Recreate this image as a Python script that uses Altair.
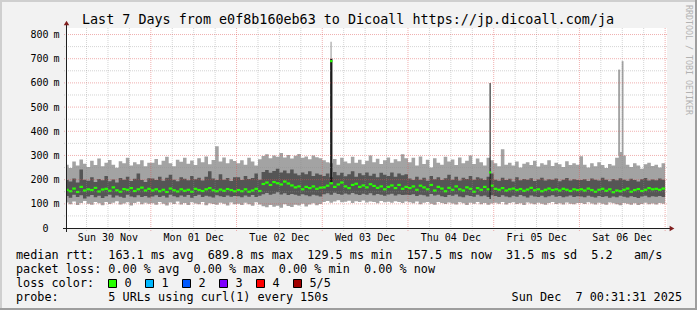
import altair as alt
import pandas as pd

# ---------------- data ----------------
# hourly bins, hour 0 = Sun 30 Nov 00:00; graph covers 0.525 .. 168.525 h
p5 = [262, 248, 275, 258, 283, 266, 252, 278, 260, 287, 255, 270, 281, 262, 249, 276, 268, 290, 258, 272, 264, 280, 255, 270,
      270, 285, 262, 278, 295, 268, 255, 282, 274, 290, 266, 279, 260, 288, 272, 296, 264, 281, 338, 275, 292, 268, 284, 277,
      268, 280, 262, 290, 275, 258, 284, 298, 305, 288, 300, 295, 310, 292, 302, 287, 299, 306, 290, 296, 284, 300, 293, 288,
      280, 272, 268, 285, 262, 290, 275, 268, 295, 270, 282, 264, 278, 300, 272, 286, 265, 280, 292, 270, 284, 276, 305, 288,
      272, 290, 258, 296, 265, 282, 250, 288, 270, 262, 295, 275, 283, 260, 292, 268, 278, 300, 265, 287, 272, 258, 290, 280,
      268, 255, 326, 262, 270, 258, 275, 250, 266, 272, 260, 278, 254, 268, 262, 280, 256, 270, 264, 252, 276, 260, 268, 262,
      297, 262, 250, 268, 255, 272, 260, 248, 265, 258, 290, 314, 300, 262, 252, 268, 258, 245, 264, 270, 256, 262, 250, 268]
p4 = [198, 192, 205, 188, 242, 200, 195, 210, 190, 203, 197, 215, 193, 201, 188, 207, 199, 212, 194, 204, 225, 198, 190, 206,
      205, 198, 212, 195, 208, 220, 200, 193, 210, 204, 197, 215, 202, 208, 196, 212, 235, 205, 198, 222, 200, 207, 194, 210,
      210, 198, 215, 203, 207, 225, 200, 232, 240, 228, 236, 245, 230, 238, 226, 242, 225, 218, 230, 222, 235, 215, 225, 220,
      215, 225, 210, 232, 218, 228, 214, 222, 235, 212, 226, 218, 230, 216, 224, 210, 228, 220, 215, 230, 212, 225, 218, 222,
      205, 198, 212, 200, 208, 195, 215, 202, 210, 198, 206, 220, 200, 212, 196, 208, 203, 215, 199, 210, 205, 198, 212, 225,
      200, 195, 208, 198, 204, 192, 210, 197, 203, 199, 206, 194, 201, 208, 196, 202, 199, 205, 193, 200, 207, 196, 202, 198,
      198, 202, 194, 205, 199, 196, 208, 200, 193, 203, 197, 206, 200, 195, 204, 198, 192, 202, 207, 196, 201, 197, 205, 199]
p3 = [158, 152, 163, 149, 170, 155, 160, 157, 166, 151, 159, 162, 154, 168, 156, 150, 161, 158, 165, 153, 160, 167, 155, 162,
      155, 160, 152, 158, 149, 163, 156, 151, 160, 154, 158, 150, 162, 157, 153, 160, 165, 156, 152, 159, 154, 161, 157, 152,
      157, 152, 160, 150, 155, 162, 153, 182, 188, 178, 190, 185, 180, 192, 184, 176, 168, 172, 160, 170, 165, 172, 162, 167,
      168, 175, 185, 170, 180, 188, 172, 165, 178, 183, 170, 176, 168, 181, 174, 166, 172, 160, 170, 176, 165, 178, 162, 170,
      165, 172, 158, 175, 168, 160, 178, 155, 170, 163, 152, 166, 158, 172, 160, 155, 168, 162, 150, 165, 158, 170, 160, 175,
      162, 158, 165, 155, 160, 163, 157, 161, 154, 159, 166, 156, 160, 152, 158, 163, 157, 160, 155, 162, 158, 153, 160, 157,
      160, 155, 163, 157, 150, 158, 162, 154, 160, 148, 155, 152, 158, 163, 150, 157, 161, 153, 158, 165, 160, 162, 158, 163]
p2 = [132, 125, 138, 128, 135, 122, 130, 136, 127, 133, 124, 131, 137, 126, 134, 129, 125, 138, 130, 127, 135, 128, 132, 126,
      130, 135, 128, 133, 126, 138, 131, 127, 134, 129, 136, 125, 132, 137, 128, 133, 130, 126, 135, 131, 128, 134, 129, 132,
      131, 127, 134, 129, 136, 128, 133, 140, 145, 137, 142, 148, 139, 144, 136, 141, 138, 133, 140, 135, 131, 138, 134, 130,
      140, 144, 138, 146, 141, 137, 143, 139, 145, 140, 136, 142, 138, 144, 135, 141, 137, 133, 139, 142, 134, 140, 136, 138,
      136, 140, 132, 138, 135, 130, 141, 134, 137, 131, 128, 136, 133, 139, 130, 127, 135, 132, 129, 137, 131, 134, 128, 135,
      132, 128, 135, 130, 127, 133, 129, 136, 131, 126, 134, 130, 128, 133, 127, 131, 135, 129, 132, 127, 130, 134, 128, 131,
      130, 127, 133, 129, 126, 132, 128, 131, 125, 130, 127, 133, 129, 126, 131, 128, 124, 130, 133, 127, 131, 129, 132, 128]
p1 = [105, 98, 110, 95, 103, 112, 100, 96, 108, 102, 94, 107, 99, 104, 111, 97, 101, 106, 93, 103, 109, 98, 104, 100,
      102, 96, 108, 100, 93, 105, 99, 110, 97, 103, 95, 106, 101, 98, 107, 94, 102, 99, 96, 104, 100, 93, 105, 98,
      100, 95, 104, 98, 92, 106, 97, 90, 86, 95, 88, 92, 84, 98, 91, 87, 96, 93, 100, 89, 97, 102, 94, 99,
      108, 112, 104, 110, 115, 106, 109, 113, 103, 111, 107, 114, 105, 110, 108, 102, 112, 106, 109, 104, 111, 107, 103, 110,
      106, 102, 110, 98, 104, 108, 100, 96, 107, 103, 99, 105, 101, 97, 106, 102, 95, 104, 100, 108, 98, 103, 96, 101,
      104, 100, 107, 97, 103, 106, 99, 102, 95, 105, 101, 98, 104, 100, 96, 103, 107, 99, 102, 97, 105, 100, 98, 103,
      103, 99, 106, 101, 97, 104, 100, 96, 105, 102, 98, 94, 103, 100, 96, 102, 95, 99, 104, 98, 101, 97, 103, 100]

# narrow outliers (hours)
spike_start = [74.2, 74.3, 118.85, 154.85, 155.85]
spike_end = [74.85, 74.63, 119.15, 155.4, 156.35]
spike_low = [190, 700, 120, 300, 300]
spike_high = [700, 770, 600, 655, 690]
spike_tone = ["dark", "light", "dark", "light", "light"]
spike_med_start = [74.2, 118.7]
spike_med_end = [74.85, 119.3]
spike_med = [690, 230]

y_major = [100, 200, 300, 400, 500, 600, 700, 800]
y_minor = [50, 150, 250, 350, 450, 550, 650, 750]
y_labels = ["0", "100", "200", "300", "400", "500", "600", "700", "800"]
y_label_vals = [0, 100, 200, 300, 400, 500, 600, 700, 800]
day_labels = ["Sun 30 Nov", "Mon 01 Dec", "Tue 02 Dec", "Wed 03 Dec", "Thu 04 Dec", "Fri 05 Dec", "Sat 06 Dec"]
day_noon = [12, 36, 60, 84, 108, 132, 156]
x_major = [24, 48, 72, 96, 120, 144, 168]
x_minor = [6, 12, 18, 30, 36, 42, 54, 60, 66, 78, 84, 90, 102, 108, 114, 126, 132, 138, 150, 156, 162]

rtt_stats = [163.1, 689.8, 129.5, 157.5, 31.5]
am_s = 5.2
loss_stats = [0.00, 0.00, 0.00, 0.00]
loss_labels = ["0", "1", "2", "3", "4", "5/5"]
loss_colors = ["#26ff00", "#00b8ff", "#0059ff", "#7e00ff", "#ff0000", "#a10000"]
title_text = "Last 7 Days from e0f8b160eb63 to Dicoall https://jp.dicoall.com/ja"
probe_text = "probe:       5 URLs using curl(1) every 150s"
stamp_text = "Sun Dec  7 00:31:31 2025"
watermark = "RRDTOOL / TOBI OETIKER"

# ---------------- layout ----------------
W, H = 600, 200
OX, OY = 67, 28
XD = [0.525, 168.525]
YD = [0, 827]
FONT = "DejaVu Sans Mono"
LIGHT, DARK, GREEN = "#a3a3a3", "#555555", "#26ff00"

xs = alt.Scale(domain=XD, nice=False, zero=False)
ys = alt.Scale(domain=YD, nice=False, zero=False)

n = len(p3)
hours = list(range(n))
df = pd.DataFrame({"h": hours, "h2": [h + 1 for h in hours],
                   "p1": p1, "p2": p2, "p3": p3, "p4": p4, "p5": p5})
df_area = pd.concat([df, df.iloc[[-1]].assign(h=n, h2=n + 1)], ignore_index=True)

spikes = pd.DataFrame({"s": spike_start, "e": spike_end, "lo": spike_low,
                       "hi": spike_high, "tone": spike_tone})
smed = pd.DataFrame({"s": spike_med_start, "e": spike_med_end, "m": spike_med})


def X(f):
    return alt.X(f, scale=xs, axis=None)


def Y(f):
    return alt.Y(f, scale=ys, axis=None)


layers = []
area = alt.Chart(df_area)
layers.append(area.mark_area(interpolate="step-after", color=LIGHT, clip=True).encode(
    x=X("h:Q"), y=Y("p5:Q"), y2="p1:Q"))
layers.append(area.mark_area(interpolate="step-after", color=DARK, clip=True).encode(
    x=X("h:Q"), y=Y("p4:Q"), y2="p2:Q"))
layers.append(alt.Chart(df).mark_rule(color=GREEN, strokeWidth=2.2, clip=True).encode(
    x=X("h:Q"), x2="h2:Q", y=Y("p3:Q")))
sp = alt.Chart(spikes)
layers.append(sp.transform_filter("datum.tone == 'dark'").mark_rect(color="#1c1c1c").encode(
    x=X("s:Q"), x2="e:Q", y=Y("lo:Q"), y2="hi:Q"))
layers.append(sp.transform_filter("datum.tone == 'light'").mark_rect(color=LIGHT).encode(
    x=X("s:Q"), x2="e:Q", y=Y("lo:Q"), y2="hi:Q"))
layers.append(alt.Chart(smed).mark_rule(color=GREEN, strokeWidth=2.2).encode(
    x=X("s:Q"), x2="e:Q", y=Y("m:Q")))

# grid
GRID_OP, MGRID_OP = 0.38, 0.45
layers.append(alt.Chart(pd.DataFrame({"v": x_minor})).mark_rule(
    color="#8f8f8f", strokeOpacity=GRID_OP, strokeDash=[1, 1]).encode(
    x=X("v:Q"), y=alt.value(0), y2=alt.value(H + 3)))
layers.append(alt.Chart(pd.DataFrame({"v": y_minor})).mark_rule(
    color="#8f8f8f", strokeOpacity=GRID_OP, strokeDash=[1, 1]).encode(
    y=Y("v:Q"), x=alt.value(-3), x2=alt.value(W)))
layers.append(alt.Chart(pd.DataFrame({"v": x_major})).mark_rule(
    color="#de4f4f", strokeOpacity=MGRID_OP, strokeDash=[1, 1]).encode(
    x=X("v:Q"), y=alt.value(0), y2=alt.value(H + 3)))
layers.append(alt.Chart(pd.DataFrame({"v": y_major})).mark_rule(
    color="#de4f4f", strokeOpacity=MGRID_OP, strokeDash=[1, 1]).encode(
    y=Y("v:Q"), x=alt.value(-3), x2=alt.value(W)))

one = alt.Data(values=[{"k": 0}])

# axes lines + arrows
layers.append(alt.Chart(one).mark_rule(color="#1f1f1f", strokeWidth=1).encode(
    x=alt.value(-4), x2=alt.value(W + 4), y=alt.value(H + 0.5)))
layers.append(alt.Chart(one).mark_rule(color="#1f1f1f", strokeWidth=1).encode(
    x=alt.value(-0.5), y=alt.value(H + 4), y2=alt.value(-4)))
layers.append(alt.Chart(one).mark_point(shape="triangle-right", filled=True, size=30,
                                        color="#801f1f", opacity=1).encode(
    x=alt.value(W + 5), y=alt.value(H + 0.5)))
layers.append(alt.Chart(one).mark_point(shape="triangle-up", filled=True, size=30,
                                        color="#801f1f", opacity=1).encode(
    x=alt.value(-0.5), y=alt.value(-5)))

# tick labels
layers.append(alt.Chart(pd.DataFrame({"v": y_label_vals, "t": y_labels})).mark_text(
    font=FONT, fontSize=10, align="right", baseline="alphabetic", dy=3.6, color="#000").encode(
    y=Y("v:Q"), x=alt.value(-18.5), text="t:N"))
layers.append(alt.Chart(pd.DataFrame({"v": y_label_vals[1:]})).mark_text(
    font=FONT, fontSize=10, align="left", baseline="alphabetic", dy=3.6, color="#000", text="m").encode(
    y=Y("v:Q"), x=alt.value(-13.5)))
layers.append(alt.Chart(pd.DataFrame({"v": day_noon, "t": day_labels})).mark_text(
    font=FONT, fontSize=10, align="center", baseline="alphabetic", color="#000").encode(
    x=X("v:Q"), y=alt.value(213.3), text="t:N"))


def txt(s, x, y, size, align="left", color="#000", angle=0, baseline="alphabetic"):
    return alt.Chart(one).mark_text(text=s.replace(" ", "\u00a0"), font=FONT, fontSize=size,
                                    align=align, baseline=baseline, color=color, angle=angle).encode(
        x=alt.value(x - OX), y=alt.value(y - OY))


line1 = ("median rtt:  %.1f ms avg  %.1f ms max  %.1f ms min  %.1f ms now  %.1f ms sd  %.1f   am/s"
         % (rtt_stats[0], rtt_stats[1], rtt_stats[2], rtt_stats[3], rtt_stats[4], am_s))
line2 = ("packet loss: %.2f %% avg  %.2f %% max  %.2f %% min  %.2f %% now" % tuple(loss_stats))

layers.append(txt(title_text, 348, 24, 13.4, align="center"))
layers.append(txt(line1, 16, 258.5, 11.8))
layers.append(txt(line2, 16, 272.5, 11.8))
layers.append(txt("loss color:", 16, 286.5, 11.8))
layers.append(txt(probe_text, 16, 300.5, 11.8))
layers.append(txt(stamp_text, 682, 300.5, 11.8, align="right"))
layers.append(txt(watermark, 688, 5, 8.3, color="#b2b2b2", angle=90, baseline="middle"))

for i, (lab, col) in enumerate(zip(loss_labels, loss_colors)):
    bx = 108.5 + 37 * i
    layers.append(alt.Chart(one).mark_rect(color=col, stroke="#000", strokeWidth=1).encode(
        x=alt.value(bx - OX), x2=alt.value(bx + 8 - OX),
        y=alt.value(279.5 - OY), y2=alt.value(287.5 - OY)))
    layers.append(txt(lab, bx + 16, 286.5, 11.8))

# bevel frame
layers.append(alt.Chart(one).mark_rect(color="#cfcfcf").encode(
    x=alt.value(-OX), x2=alt.value(697 - OX), y=alt.value(-OY), y2=alt.value(2 - OY)))
layers.append(alt.Chart(one).mark_rect(color="#cfcfcf").encode(
    x=alt.value(-OX), x2=alt.value(2 - OX), y=alt.value(-OY), y2=alt.value(310 - OY)))
layers.append(alt.Chart(one).mark_rect(color="#9e9e9e").encode(
    x=alt.value(695 - OX), x2=alt.value(697 - OX), y=alt.value(-OY), y2=alt.value(310 - OY)))
layers.append(alt.Chart(one).mark_rect(color="#9e9e9e").encode(
    x=alt.value(-OX), x2=alt.value(697 - OX), y=alt.value(308 - OY), y2=alt.value(310 - OY)))

chart = alt.layer(*layers).properties(
    width=W, height=H,
    padding={"left": OX, "top": OY, "right": 697 - OX - W, "bottom": 310 - OY - H},
    autosize=alt.AutoSizeParams(type="none"),
    background="#f2f2f2",
).configure_view(fill="#ffffff", strokeWidth=0)

chart.save("out.html", embed_options={"renderer": "svg", "actions": False})
